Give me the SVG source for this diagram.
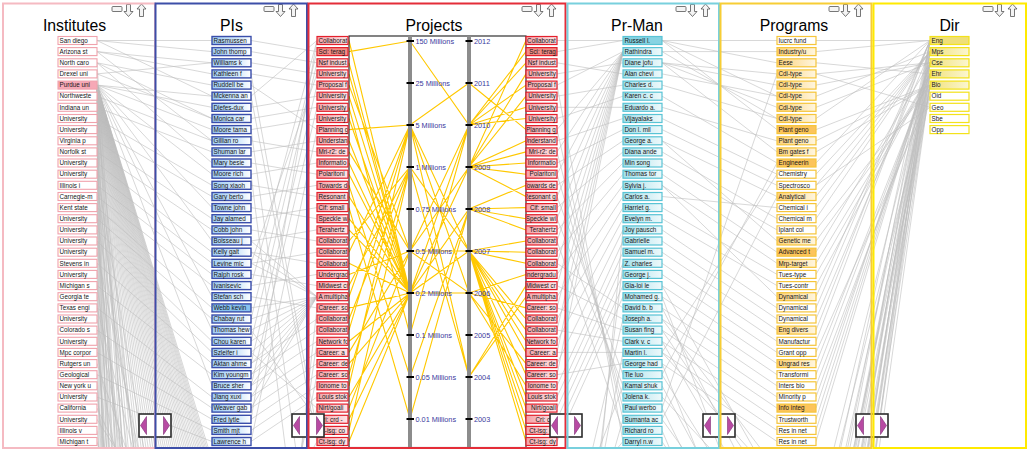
<svg xmlns="http://www.w3.org/2000/svg" width="1031" height="452" viewBox="0 0 1031 452">
<style>
text{font-family:"Liberation Sans",Arial,sans-serif}
.t{font-size:15.8px;text-anchor:middle;fill:#000}
.nodes text{font-size:6.3px;fill:#161616}
.bi{fill:#fff;stroke:#f0a2ac;stroke-width:1.1}
.bi.h{fill:#f6a8b6}
.bp{fill:url(#gp);stroke:#3a4eab;stroke-width:1.4}
.bp.h{fill:#88c2ef}
.bj{fill:url(#gj);stroke:#e3202c;stroke-width:1.2}
.bj.h{fill:#f28a84}
.bm{fill:url(#gm);stroke:#59c4d5;stroke-width:1.2}
.bm.h{fill:#86d3e2}
.bg{fill:#fff;stroke:#f6c53a;stroke-width:1.2}
.bg.g{fill:url(#gg)}
.bg.h{fill:#fcc45c}
.bd{fill:#fff;stroke:#f3e21a;stroke-width:1.2}
.bd.g{fill:url(#gd)}
.bd.h{fill:#efdf78}
.pl text,.pr text{clip-path:url(#cb)}
.pr text{text-anchor:end}
.cn{stroke:#bdbdbd;stroke-width:.6;fill:none}
.yl{stroke:#ffc800;stroke-width:1.1;fill:none}
.ax{font-size:7.3px;fill:#3a3a9e}
.pan{fill:none;stroke-width:2}
</style>
<defs>
<linearGradient id="gp"><stop offset="0" stop-color="#9fcbf3"/><stop offset=".7" stop-color="#d6eafb"/><stop offset="1" stop-color="#fff"/></linearGradient>
<linearGradient id="gj"><stop offset="0" stop-color="#f4a0a6"/><stop offset="1" stop-color="#fde6e8"/></linearGradient>
<linearGradient id="gm"><stop offset="0" stop-color="#a3dfea"/><stop offset="1" stop-color="#eef9fb"/></linearGradient>
<linearGradient id="gg"><stop offset="0" stop-color="#fcd27a"/><stop offset="1" stop-color="#fff6df"/></linearGradient>
<linearGradient id="gd"><stop offset="0" stop-color="#f1e27c"/><stop offset="1" stop-color="#fbf6d0"/></linearGradient>
<clipPath id="cb"><rect x="0.6" y="-1" width="29.8" height="10"/></clipPath>
<clipPath id="cc"><rect x="0" y="0" width="1031" height="447"/></clipPath>
<g id="ico">
<rect x="0" y="2.5" width="10" height="5" rx="1" fill="#f4f4f4" stroke="#555" stroke-width=".8"/>
<path d="M14.5 0.5h4v7h2.5l-4.5 5l-4.5-5h2.5z" fill="#f4f4f4" stroke="#555" stroke-width=".8"/>
<path d="M29.5 0l4.5 5h-2.5v7.5h-4v-7.5h-2.5z" fill="#f4f4f4" stroke="#555" stroke-width=".8"/>
</g>
<g id="scr">
<rect x="-16" y="0" width="32" height="23" fill="#fff" stroke="#2b2b2b" stroke-width="1.6"/>
<path d="M-14.5 11.5L-8.5 2.5V20.5Z" fill="#b84aa3" stroke="#7d2c73" stroke-width=".6"/>
<path d="M14.5 11.5L8.5 2.5V20.5Z" fill="#b84aa3" stroke="#7d2c73" stroke-width=".6"/>
</g>
</defs>
<rect width="1031" height="452" fill="#fff"/>

<g id="connectors" clip-path="url(#cc)">
<path class="cn" d="M97 40.5L212 40.5M97 40.5L212 51.6M97 51.6L212 62.8M97 51.6L212 73.9M97 62.8L212 85.1M97 85.1L212 96.2M97 85.1L212 107.3M97 73.9L212 118.5M97 85.1L212 129.6M97 96.2L212 140.8M97 107.3L212 151.9M97 62.8L212 163M97 85.1L212 174.2M97 118.5L212 185.3M97 129.6L212 196.5M97 85.1L212 207.6M97 140.8L212 218.7M97 151.9L212 229.9M97 85.1L212 241M97 163L212 252.2M97 174.2L212 263.3M97 185.3L212 274.4M97 196.5L212 285.6M97 85.1L212 296.7M97 207.6L212 307.9M97 218.7L212 319M97 85.1L212 330.1M97 229.9L212 341.3M97 241L212 352.4M97 263.3L212 363.6M97 285.6L212 374.7M97 85.1L212 385.8M97 307.9L212 397M97 330.1L212 408.1M97 352.4L212 419.3M97 374.7L212 430.4M97 397L212 441.5M97 40.5L212 96.2M97 51.6L212 140.8M97 62.8L212 118.5M97 73.9L212 62.8"/>
<path class="cn" d="M97 85.1L212 460M97 85.1L212 465M97 85.1L212 470M97 85.1L212 475M97 85.1L212 480M97 85.1L212 486M97 85.1L212 492M97 85.1L212 498M97 85.1L212 505M97 85.1L212 512M97 85.1L212 520M97 85.1L212 528M97 85.1L212 536M97 85.1L212 544M97 85.1L212 553M97 85.1L212 562M97 85.1L212 572M97 85.1L212 583M97 85.1L212 594M97 85.1L212 606M97 85.1L212 618M97 85.1L212 631M97 85.1L212 645M97 85.1L212 660M97 85.1L212 676M97 85.1L212 694M97 85.1L212 712M97 85.1L212 732M97 85.1L212 754M97 85.1L212 778M97 85.1L212 804M97 85.1L212 832M97 85.1L212 864M97 85.1L212 900M97 85.1L212 938M97 85.1L212 982M97 85.1L212 1030M97 85.1L212 1090M97 85.1L212 1150M97 85.1L212 1230M97 85.1L212 1310M97 85.1L212 1420M97 85.1L212 1540M97 85.1L212 1700M97 85.1L212 1880M97 85.1L212 2150M97 85.1L212 2450M97 85.1L212 2900M97 85.1L212 3500M97 85.1L212 4500M97 85.1L212 6000M97 85.1L212 7500M97 85.1L212 9000M97 85.1L212 14000M97 85.1L212 25000"/>
<path class="cn" d="M97 218.7L212 900M97 229.9L212 1400M97 252.2L212 800M97 263.3L212 2000M97 285.6L212 1100M97 296.7L212 3000M97 319L212 900M97 341.3L212 1600M97 363.6L212 700M97 374.7L212 2500M97 397L212 1200M97 419.3L212 600M97 430.4L212 1500M97 441.5L212 900M97 151.9L212 1300M97 196.5L212 2200M97 62.8L212 1800M97 73.9L212 2400M97 184.8L212 1000M97 140.8L212 4000M97 96.2L212 1700M97 107.3L212 2600M97 118.5L212 1150M97 129.6L212 3200M97 163L212 1900M97 174.2L212 850M97 207.6L212 2700M97 241L212 1250M97 274.4L212 3400M97 307.9L212 760M97 330.1L212 2100M97 352.4L212 980M97 385.8L212 1700M97 408.1L212 650"/>
<path class="cn" d="M251 96.2L317 40.5M251 40.5L317 51.6M251 51.6L317 62.8M251 62.8L317 73.9M251 73.9L317 85.1M251 107.3L317 96.2M251 118.5L317 107.3M251 129.6L317 118.5M251 85.1L317 129.6M251 151.9L317 140.8M251 140.8L317 151.9M251 174.2L317 163M251 163L317 174.2M251 196.5L317 185.3M251 185.3L317 196.5M251 218.7L317 207.6M251 207.6L317 218.7M251 241L317 229.9M251 229.9L317 241M251 263.3L317 252.2M251 252.2L317 263.3M251 285.6L317 274.4M251 274.4L317 285.6M251 307.9L317 296.7M251 319L317 296.7M251 330.1L317 296.7M251 341.3L317 296.7M251 352.4L317 296.7M251 363.6L317 296.7M251 374.7L317 296.7M251 385.8L317 296.7M251 397L317 296.7M251 408.1L317 296.7M251 241L317 296.7M251 252.2L317 296.7M251 263.3L317 296.7M251 296.7L317 307.9M251 363.6L317 319M251 374.7L317 330.1M251 385.8L317 341.3M251 397L317 352.4M251 408.1L317 363.6M251 419.3L317 374.7M251 430.4L317 385.8M251 441.5L317 397M251 352.4L317 408.1M251 330.1L317 419.3M251 73.9L317 430.4M251 96.2L317 441.5M251 285.6L317 40.5M251 319L317 51.6M251 341.3L317 62.8M251 263.3L317 73.9M251 363.6L317 85.1M251 385.8L317 107.3M251 419.3L317 40.5M251 441.5L317 129.6M317 374.7L251 700M317 408.1L251 650M317 441.5L251 560M317 341.3L251 800M317 307.9L251 900M251 129.6L317 600M251 174.2L317 700"/>
<path class="cn" d="M557 40.5L623 40.5M557 51.6L623 40.5M557 85.1L623 51.6M557 129.6L623 51.6M557 151.9L623 51.6M557 174.2L623 51.6M557 196.5L623 51.6M557 218.7L623 51.6M557 241L623 51.6M557 263.3L623 51.6M557 285.6L623 51.6M557 307.9L623 51.6M557 330.1L623 51.6M557 352.4L623 51.6M557 374.7L623 51.6M557 73.9L623 62.8M557 62.8L623 73.9M557 96.2L623 85.1M557 118.5L623 96.2M557 107.3L623 107.3M557 140.8L623 118.5M557 163L623 129.6M557 185.3L623 140.8M557 207.6L623 151.9M557 229.9L623 163M557 252.2L623 174.2M557 274.4L623 185.3M557 296.7L623 196.5M557 319L623 207.6M557 341.3L623 218.7M557 363.6L623 229.9M557 385.8L623 241M557 397L623 252.2M557 408.1L623 263.3M557 419.3L623 274.4M557 430.4L623 285.6M557 441.5L623 296.7M557 263.3L623 307.9M557 285.6L623 319M557 307.9L623 330.1M557 330.1L623 341.3M557 352.4L623 352.4M557 374.7L623 363.6M557 196.5L623 374.7M557 218.7L623 385.8M557 174.2L623 397M557 151.9L623 408.1M557 129.6L623 419.3M557 241L623 430.4M557 85.1L623 441.5M623 319L557 600M623 352.4L557 700M623 385.8L557 560M623 419.3L557 650M623 441.5L557 520M623 263.3L557 800M623 229.9L557 900"/>
<path class="cn" d="M662 40.5L777 40.5M662 51.6L777 51.6M662 40.5L777 62.8M662 62.8L777 73.9M662 62.8L777 85.1M662 73.9L777 96.2M662 62.8L777 107.3M662 85.1L777 118.5M662 40.5L777 129.6M662 107.3L777 140.8M662 62.8L777 151.9M662 96.2L777 163M662 118.5L777 174.2M662 129.6L777 185.3M662 140.8L777 196.5M662 196.5L777 207.6M662 151.9L777 218.7M662 163L777 229.9M662 140.8L777 241M662 174.2L777 252.2M662 185.3L777 263.3M662 207.6L777 274.4M662 218.7L777 285.6M662 185.3L777 296.7M662 229.9L777 307.9M662 241L777 319M662 252.2L777 330.1M662 263.3L777 341.3M662 274.4L777 352.4M662 285.6L777 363.6M662 296.7L777 374.7M662 307.9L777 385.8M662 319L777 397M662 330.1L777 408.1M662 341.3L777 419.3M662 352.4L777 430.4M662 363.6L777 441.5M662 374.7L777 163M662 352.4L777 174.2M662 419.3L777 196.5M662 408.1L777 73.9M662 40.5L777 96.2M662 51.6L777 118.5M662 374.7L777 560M662 385.8L777 600M662 397L777 520M662 408.1L777 640M662 419.3L777 580M662 430.4L777 700M662 441.5L777 620M662 330.1L777 500M662 341.3L777 540M662 352.4L777 480M662 363.6L777 650M662 319L777 470M662 307.9L777 530M662 285.6L777 490M662 296.7L777 600"/>
<path class="cn" d="M816 40.5L930 40.5M816 51.6L930 40.5M816 62.8L930 73.9M816 73.9L930 62.8M816 85.1L930 62.8M816 96.2L930 51.6M816 107.3L930 62.8M816 118.5L930 40.5M816 129.6L930 85.1M816 140.8L930 85.1M816 151.9L930 85.1M816 163L930 40.5M816 174.2L930 51.6M816 185.3L930 51.6M816 196.5L930 51.6M816 207.6L930 51.6M816 218.7L930 51.6M816 229.9L930 85.1M816 241L930 85.1M816 252.2L930 62.8M816 263.3L930 73.9M816 274.4L930 73.9M816 285.6L930 73.9M816 296.7L930 40.5M816 307.9L930 40.5M816 319L930 51.6M816 330.1L930 40.5M816 341.3L930 40.5M816 352.4L930 96.2M816 363.6L930 73.9M816 374.7L930 73.9M816 385.8L930 85.1M816 397L930 73.9M816 408.1L930 62.8M816 419.3L930 62.8M816 430.4L930 62.8M816 441.5L930 62.8M816 73.9L930 107.3M816 185.3L930 107.3M930 40.5L816 560M930 40.5L816 680M930 40.5L816 800M930 40.5L816 900M930 51.6L816 600M930 51.6L816 720M930 51.6L816 840M930 62.8L816 520M930 62.8L816 640M930 62.8L816 760M930 62.8L816 880M930 73.9L816 580M930 73.9L816 700M930 73.9L816 820M930 85.1L816 540M930 85.1L816 660M930 85.1L816 780M930 85.1L816 900M930 96.2L816 620M930 40.5L816 620M930 51.6L816 780M930 62.8L816 700M930 85.1L816 720M930 40.5L816 740M930 51.6L816 660M930 62.8L816 820M930 73.9L816 640M930 85.1L816 840M930 73.9L816 760"/>
<g id="parallel-lines">
<path class="yl" d="M349 40.5L410 293L469 167L526 40.5M349 51.6L410 41L469 125L526 51.6M349 62.8L410 293L469 125L526 62.8M349 73.9L410 293L469 167L526 73.9M349 85.1L410 251L469 125L526 85.1M349 96.2L410 293L469 167L526 96.2M349 107.3L410 335L469 125L526 107.3M349 118.5L410 293L469 125L526 118.5M349 129.6L410 125L469 83L526 129.6M349 140.8L410 293L469 167L526 140.8M349 151.9L410 251L469 167L526 151.9M349 163L410 293L469 167L526 163M349 174.2L410 293L469 167L526 174.2M349 185.3L410 377L469 209L526 185.3M349 196.5L410 293L469 167L526 196.5M349 207.6L410 419L469 209L526 207.6M349 218.7L410 293L469 209L526 218.7M349 229.9L410 293L469 209L526 229.9M349 241L410 167L469 251L526 241M349 252.2L410 125L469 251L526 252.2M349 263.3L410 293L469 251L526 263.3M349 274.4L410 251L469 293L526 274.4M349 285.6L410 167L469 377L526 285.6M349 296.7L410 125L469 377L526 296.7M349 307.9L410 293L469 293L526 307.9M349 319L410 167L469 251L526 319M349 330.1L410 125L469 251L526 330.1M349 341.3L410 293L469 251L526 341.3M349 352.4L410 251L469 251L526 352.4M349 363.6L410 293L469 293L526 363.6M349 374.7L410 167L469 251L526 374.7M349 385.8L410 125L469 293L526 385.8M349 397L410 293L469 251L526 397M349 408.1L410 251L469 251L526 408.1M349 419.3L410 293L469 251L526 419.3M349 430.4L410 167L469 251L526 430.4M349 441.5L410 293L469 251L526 441.5"/>
</g>
</g>

<g id="proj-axes">
<rect x="349" y="36" width="177" height="411.5" fill="none" stroke="#1e1e1e" stroke-width="1.1"/>
<rect x="408" y="36" width="4" height="411.5" fill="#8c8c8c"/>
<rect x="467" y="36" width="4" height="411.5" fill="#8c8c8c"/>
<path d="M406.5 41h7.5M406.5 83h7.5M406.5 125h7.5M406.5 167h7.5M406.5 209h7.5M406.5 251h7.5M406.5 293h7.5M406.5 335h7.5M406.5 377h7.5M406.5 419h7.5M465.5 41h7M465.5 83h7M465.5 125h7M465.5 167h7M465.5 209h7M465.5 251h7M465.5 293h7M465.5 335h7M465.5 377h7M465.5 419h7" stroke="#000" stroke-width="2.2"/>
<g class="ax">
<text x="415.5" y="43.7">150 Millions</text><text x="415.5" y="85.7">25 Millions</text><text x="415.5" y="127.7">5 Millions</text><text x="415.5" y="169.7">1 Millions</text><text x="415.5" y="211.7">0.75 Millions</text><text x="415.5" y="253.7">0.5 Millions</text><text x="415.5" y="295.7">0.2 Millions</text><text x="415.5" y="337.7">0.1 Millions</text><text x="415.5" y="379.7">0.05 Millions</text><text x="415.5" y="421.7">0.01 Millions</text>
<text x="474" y="44">2012</text><text x="474" y="86">2011</text><text x="474" y="128">2010</text><text x="474" y="170">2009</text><text x="474" y="212">2008</text><text x="474" y="254">2007</text><text x="474" y="296">2006</text><text x="474" y="338">2005</text><text x="474" y="380">2004</text><text x="474" y="422">2003</text>
</g>
</g>

<g class="nodes">
<g id="institutes">
<g id="inst-0" transform="translate(58 36.5)"><rect class="bi" width="39" height="8"/><text x="1.5" y="6.3">San diego</text></g>
<g id="inst-1" transform="translate(58 47.6)"><rect class="bi" width="39" height="8"/><text x="1.5" y="6.3">Arizona st</text></g>
<g id="inst-2" transform="translate(58 58.8)"><rect class="bi" width="39" height="8"/><text x="1.5" y="6.3">North caro</text></g>
<g id="inst-3" transform="translate(58 69.9)"><rect class="bi" width="39" height="8"/><text x="1.5" y="6.3">Drexel uni</text></g>
<g id="inst-4" transform="translate(58 81.1)"><rect class="bi h" width="39" height="8"/><text x="1.5" y="6.3">Purdue uni</text></g>
<g id="inst-5" transform="translate(58 92.2)"><rect class="bi" width="39" height="8"/><text x="1.5" y="6.3">Northweste</text></g>
<g id="inst-6" transform="translate(58 103.3)"><rect class="bi" width="39" height="8"/><text x="1.5" y="6.3">Indiana un</text></g>
<g id="inst-7" transform="translate(58 114.5)"><rect class="bi" width="39" height="8"/><text x="1.5" y="6.3">University</text></g>
<g id="inst-8" transform="translate(58 125.6)"><rect class="bi" width="39" height="8"/><text x="1.5" y="6.3">University</text></g>
<g id="inst-9" transform="translate(58 136.8)"><rect class="bi" width="39" height="8"/><text x="1.5" y="6.3">Virginia p</text></g>
<g id="inst-10" transform="translate(58 147.9)"><rect class="bi" width="39" height="8"/><text x="1.5" y="6.3">Norfolk st</text></g>
<g id="inst-11" transform="translate(58 159)"><rect class="bi" width="39" height="8"/><text x="1.5" y="6.3">University</text></g>
<g id="inst-12" transform="translate(58 170.2)"><rect class="bi" width="39" height="8"/><text x="1.5" y="6.3">University</text></g>
<g id="inst-13" transform="translate(58 181.3)"><rect class="bi" width="39" height="8"/><text x="1.5" y="6.3">Illinois i</text></g>
<g id="inst-14" transform="translate(58 192.5)"><rect class="bi" width="39" height="8"/><text x="1.5" y="6.3">Carnegie-m</text></g>
<g id="inst-15" transform="translate(58 203.6)"><rect class="bi" width="39" height="8"/><text x="1.5" y="6.3">Kent state</text></g>
<g id="inst-16" transform="translate(58 214.7)"><rect class="bi" width="39" height="8"/><text x="1.5" y="6.3">University</text></g>
<g id="inst-17" transform="translate(58 225.9)"><rect class="bi" width="39" height="8"/><text x="1.5" y="6.3">University</text></g>
<g id="inst-18" transform="translate(58 237)"><rect class="bi" width="39" height="8"/><text x="1.5" y="6.3">University</text></g>
<g id="inst-19" transform="translate(58 248.2)"><rect class="bi" width="39" height="8"/><text x="1.5" y="6.3">University</text></g>
<g id="inst-20" transform="translate(58 259.3)"><rect class="bi" width="39" height="8"/><text x="1.5" y="6.3">Stevens in</text></g>
<g id="inst-21" transform="translate(58 270.4)"><rect class="bi" width="39" height="8"/><text x="1.5" y="6.3">University</text></g>
<g id="inst-22" transform="translate(58 281.6)"><rect class="bi" width="39" height="8"/><text x="1.5" y="6.3">Michigan s</text></g>
<g id="inst-23" transform="translate(58 292.7)"><rect class="bi" width="39" height="8"/><text x="1.5" y="6.3">Georgia te</text></g>
<g id="inst-24" transform="translate(58 303.9)"><rect class="bi" width="39" height="8"/><text x="1.5" y="6.3">Texas engi</text></g>
<g id="inst-25" transform="translate(58 315)"><rect class="bi" width="39" height="8"/><text x="1.5" y="6.3">University</text></g>
<g id="inst-26" transform="translate(58 326.1)"><rect class="bi" width="39" height="8"/><text x="1.5" y="6.3">Colorado s</text></g>
<g id="inst-27" transform="translate(58 337.3)"><rect class="bi" width="39" height="8"/><text x="1.5" y="6.3">University</text></g>
<g id="inst-28" transform="translate(58 348.4)"><rect class="bi" width="39" height="8"/><text x="1.5" y="6.3">Mpc corpor</text></g>
<g id="inst-29" transform="translate(58 359.6)"><rect class="bi" width="39" height="8"/><text x="1.5" y="6.3">Rutgers un</text></g>
<g id="inst-30" transform="translate(58 370.7)"><rect class="bi" width="39" height="8"/><text x="1.5" y="6.3">Geological</text></g>
<g id="inst-31" transform="translate(58 381.8)"><rect class="bi" width="39" height="8"/><text x="1.5" y="6.3">New york u</text></g>
<g id="inst-32" transform="translate(58 393)"><rect class="bi" width="39" height="8"/><text x="1.5" y="6.3">University</text></g>
<g id="inst-33" transform="translate(58 404.1)"><rect class="bi" width="39" height="8"/><text x="1.5" y="6.3">California</text></g>
<g id="inst-34" transform="translate(58 415.3)"><rect class="bi" width="39" height="8"/><text x="1.5" y="6.3">University</text></g>
<g id="inst-35" transform="translate(58 426.4)"><rect class="bi" width="39" height="8"/><text x="1.5" y="6.3">Illinois v</text></g>
<g id="inst-36" transform="translate(58 437.5)"><rect class="bi" width="39" height="8"/><text x="1.5" y="6.3">Michigan t</text></g>
</g>
<g id="pis">
<g id="pi-0" transform="translate(212 36.5)"><rect class="bp" width="39" height="8"/><text x="1.5" y="6.3">Rasmussen</text></g>
<g id="pi-1" transform="translate(212 47.6)"><rect class="bp" width="39" height="8"/><text x="1.5" y="6.3">John thomp</text></g>
<g id="pi-2" transform="translate(212 58.8)"><rect class="bp" width="39" height="8"/><text x="1.5" y="6.3">Williams k</text></g>
<g id="pi-3" transform="translate(212 69.9)"><rect class="bp" width="39" height="8"/><text x="1.5" y="6.3">Kathleen f</text></g>
<g id="pi-4" transform="translate(212 81.1)"><rect class="bp" width="39" height="8"/><text x="1.5" y="6.3">Ruddell be</text></g>
<g id="pi-5" transform="translate(212 92.2)"><rect class="bp" width="39" height="8"/><text x="1.5" y="6.3">Mckenna an</text></g>
<g id="pi-6" transform="translate(212 103.3)"><rect class="bp" width="39" height="8"/><text x="1.5" y="6.3">Diefes-dux</text></g>
<g id="pi-7" transform="translate(212 114.5)"><rect class="bp" width="39" height="8"/><text x="1.5" y="6.3">Monica car</text></g>
<g id="pi-8" transform="translate(212 125.6)"><rect class="bp" width="39" height="8"/><text x="1.5" y="6.3">Moore tama</text></g>
<g id="pi-9" transform="translate(212 136.8)"><rect class="bp" width="39" height="8"/><text x="1.5" y="6.3">Gillian ro</text></g>
<g id="pi-10" transform="translate(212 147.9)"><rect class="bp" width="39" height="8"/><text x="1.5" y="6.3">Shuman lar</text></g>
<g id="pi-11" transform="translate(212 159)"><rect class="bp" width="39" height="8"/><text x="1.5" y="6.3">Mary besie</text></g>
<g id="pi-12" transform="translate(212 170.2)"><rect class="bp" width="39" height="8"/><text x="1.5" y="6.3">Moore rich</text></g>
<g id="pi-13" transform="translate(212 181.3)"><rect class="bp" width="39" height="8"/><text x="1.5" y="6.3">Song xiaoh</text></g>
<g id="pi-14" transform="translate(212 192.5)"><rect class="bp" width="39" height="8"/><text x="1.5" y="6.3">Gary berto</text></g>
<g id="pi-15" transform="translate(212 203.6)"><rect class="bp" width="39" height="8"/><text x="1.5" y="6.3">Towne john</text></g>
<g id="pi-16" transform="translate(212 214.7)"><rect class="bp" width="39" height="8"/><text x="1.5" y="6.3">Jay alamed</text></g>
<g id="pi-17" transform="translate(212 225.9)"><rect class="bp" width="39" height="8"/><text x="1.5" y="6.3">Cobb john</text></g>
<g id="pi-18" transform="translate(212 237)"><rect class="bp" width="39" height="8"/><text x="1.5" y="6.3">Boisseau j</text></g>
<g id="pi-19" transform="translate(212 248.2)"><rect class="bp" width="39" height="8"/><text x="1.5" y="6.3">Kelly gait</text></g>
<g id="pi-20" transform="translate(212 259.3)"><rect class="bp" width="39" height="8"/><text x="1.5" y="6.3">Levine mic</text></g>
<g id="pi-21" transform="translate(212 270.4)"><rect class="bp" width="39" height="8"/><text x="1.5" y="6.3">Ralph rosk</text></g>
<g id="pi-22" transform="translate(212 281.6)"><rect class="bp" width="39" height="8"/><text x="1.5" y="6.3">Ivanisevic</text></g>
<g id="pi-23" transform="translate(212 292.7)"><rect class="bp" width="39" height="8"/><text x="1.5" y="6.3">Stefan sch</text></g>
<g id="pi-24" transform="translate(212 303.9)"><rect class="bp h" width="39" height="8"/><text x="1.5" y="6.3">Webb kevin</text></g>
<g id="pi-25" transform="translate(212 315)"><rect class="bp" width="39" height="8"/><text x="1.5" y="6.3">Chabay rut</text></g>
<g id="pi-26" transform="translate(212 326.1)"><rect class="bp" width="39" height="8"/><text x="1.5" y="6.3">Thomas hew</text></g>
<g id="pi-27" transform="translate(212 337.3)"><rect class="bp" width="39" height="8"/><text x="1.5" y="6.3">Chou karen</text></g>
<g id="pi-28" transform="translate(212 348.4)"><rect class="bp" width="39" height="8"/><text x="1.5" y="6.3">Szleifer i</text></g>
<g id="pi-29" transform="translate(212 359.6)"><rect class="bp" width="39" height="8"/><text x="1.5" y="6.3">Aktan ahme</text></g>
<g id="pi-30" transform="translate(212 370.7)"><rect class="bp" width="39" height="8"/><text x="1.5" y="6.3">Kim youngm</text></g>
<g id="pi-31" transform="translate(212 381.8)"><rect class="bp" width="39" height="8"/><text x="1.5" y="6.3">Bruce sher</text></g>
<g id="pi-32" transform="translate(212 393)"><rect class="bp" width="39" height="8"/><text x="1.5" y="6.3">Jiang xuxi</text></g>
<g id="pi-33" transform="translate(212 404.1)"><rect class="bp" width="39" height="8"/><text x="1.5" y="6.3">Weaver gab</text></g>
<g id="pi-34" transform="translate(212 415.3)"><rect class="bp" width="39" height="8"/><text x="1.5" y="6.3">Fred lytle</text></g>
<g id="pi-35" transform="translate(212 426.4)"><rect class="bp" width="39" height="8"/><text x="1.5" y="6.3">Smith mjt</text></g>
<g id="pi-36" transform="translate(212 437.5)"><rect class="bp" width="39" height="8"/><text x="1.5" y="6.3">Lawrence h</text></g>
</g>
<g id="projects-left" class="pl">
<g id="proj-0" transform="translate(317 36.5)"><rect class="bj" width="31" height="8"/><text x="1.5" y="6.3">Collaborat</text></g>
<g id="proj-1" transform="translate(317 47.6)"><rect class="bj h" width="31" height="8"/><text x="1.5" y="6.3">Sci: terag</text></g>
<g id="proj-2" transform="translate(317 58.8)"><rect class="bj" width="31" height="8"/><text x="1.5" y="6.3">Nsf indust</text></g>
<g id="proj-3" transform="translate(317 69.9)"><rect class="bj" width="31" height="8"/><text x="1.5" y="6.3">University</text></g>
<g id="proj-4" transform="translate(317 81.1)"><rect class="bj" width="31" height="8"/><text x="1.5" y="6.3">Proposal f</text></g>
<g id="proj-5" transform="translate(317 92.2)"><rect class="bj" width="31" height="8"/><text x="1.5" y="6.3">University</text></g>
<g id="proj-6" transform="translate(317 103.3)"><rect class="bj" width="31" height="8"/><text x="1.5" y="6.3">University</text></g>
<g id="proj-7" transform="translate(317 114.5)"><rect class="bj" width="31" height="8"/><text x="1.5" y="6.3">University</text></g>
<g id="proj-8" transform="translate(317 125.6)"><rect class="bj" width="31" height="8"/><text x="1.5" y="6.3">Planning g</text></g>
<g id="proj-9" transform="translate(317 136.8)"><rect class="bj" width="31" height="8"/><text x="1.5" y="6.3">Understand</text></g>
<g id="proj-10" transform="translate(317 147.9)"><rect class="bj" width="31" height="8"/><text x="1.5" y="6.3">Mri-r2: de</text></g>
<g id="proj-11" transform="translate(317 159)"><rect class="bj" width="31" height="8"/><text x="1.5" y="6.3">Informatio</text></g>
<g id="proj-12" transform="translate(317 170.2)"><rect class="bj" width="31" height="8"/><text x="1.5" y="6.3">Polaritoni</text></g>
<g id="proj-13" transform="translate(317 181.3)"><rect class="bj" width="31" height="8"/><text x="1.5" y="6.3">Towards de</text></g>
<g id="proj-14" transform="translate(317 192.5)"><rect class="bj" width="31" height="8"/><text x="1.5" y="6.3">Resonant g</text></g>
<g id="proj-15" transform="translate(317 203.6)"><rect class="bj" width="31" height="8"/><text x="1.5" y="6.3">Cif: small</text></g>
<g id="proj-16" transform="translate(317 214.7)"><rect class="bj" width="31" height="8"/><text x="1.5" y="6.3">Speckle wi</text></g>
<g id="proj-17" transform="translate(317 225.9)"><rect class="bj" width="31" height="8"/><text x="1.5" y="6.3">Terahertz</text></g>
<g id="proj-18" transform="translate(317 237)"><rect class="bj" width="31" height="8"/><text x="1.5" y="6.3">Collaborat</text></g>
<g id="proj-19" transform="translate(317 248.2)"><rect class="bj" width="31" height="8"/><text x="1.5" y="6.3">Collaborat</text></g>
<g id="proj-20" transform="translate(317 259.3)"><rect class="bj" width="31" height="8"/><text x="1.5" y="6.3">Collaborat</text></g>
<g id="proj-21" transform="translate(317 270.4)"><rect class="bj" width="31" height="8"/><text x="1.5" y="6.3">Undergradu</text></g>
<g id="proj-22" transform="translate(317 281.6)"><rect class="bj" width="31" height="8"/><text x="1.5" y="6.3">Midwest cr</text></g>
<g id="proj-23" transform="translate(317 292.7)"><rect class="bj" width="31" height="8"/><text x="1.5" y="6.3">A multipha</text></g>
<g id="proj-24" transform="translate(317 303.9)"><rect class="bj" width="31" height="8"/><text x="1.5" y="6.3">Career: so</text></g>
<g id="proj-25" transform="translate(317 315)"><rect class="bj" width="31" height="8"/><text x="1.5" y="6.3">Collaborat</text></g>
<g id="proj-26" transform="translate(317 326.1)"><rect class="bj" width="31" height="8"/><text x="1.5" y="6.3">Collaborat</text></g>
<g id="proj-27" transform="translate(317 337.3)"><rect class="bj" width="31" height="8"/><text x="1.5" y="6.3">Network fo</text></g>
<g id="proj-28" transform="translate(317 348.4)"><rect class="bj" width="31" height="8"/><text x="1.5" y="6.3">Career: a</text></g>
<g id="proj-29" transform="translate(317 359.6)"><rect class="bj" width="31" height="8"/><text x="1.5" y="6.3">Career: de</text></g>
<g id="proj-30" transform="translate(317 370.7)"><rect class="bj" width="31" height="8"/><text x="1.5" y="6.3">Career: so</text></g>
<g id="proj-31" transform="translate(317 381.8)"><rect class="bj" width="31" height="8"/><text x="1.5" y="6.3">Ionome to</text></g>
<g id="proj-32" transform="translate(317 393)"><rect class="bj" width="31" height="8"/><text x="1.5" y="6.3">Louis stok</text></g>
<g id="proj-33" transform="translate(317 404.1)"><rect class="bj" width="31" height="8"/><text x="1.5" y="6.3">Nirt/goali</text></g>
<g id="proj-34" transform="translate(317 415.3)"><rect class="bj" width="31" height="8"/><text x="1.5" y="6.3">Cri: crd -</text></g>
<g id="proj-35" transform="translate(317 426.4)"><rect class="bj" width="31" height="8"/><text x="1.5" y="6.3">Ct-isg: co</text></g>
<g id="proj-36" transform="translate(317 437.5)"><rect class="bj" width="31" height="8"/><text x="1.5" y="6.3">Ct-isg: dy</text></g>
</g>
<g id="projects-right" class="pr">
<g id="projr-0" transform="translate(526 36.5)"><rect class="bj" width="31" height="8"/><text x="29.8" y="6.3">Collaborat</text></g>
<g id="projr-1" transform="translate(526 47.6)"><rect class="bj h" width="31" height="8"/><text x="29.8" y="6.3">Sci: terag</text></g>
<g id="projr-2" transform="translate(526 58.8)"><rect class="bj" width="31" height="8"/><text x="29.8" y="6.3">Nsf indust</text></g>
<g id="projr-3" transform="translate(526 69.9)"><rect class="bj" width="31" height="8"/><text x="29.8" y="6.3">University</text></g>
<g id="projr-4" transform="translate(526 81.1)"><rect class="bj" width="31" height="8"/><text x="29.8" y="6.3">Proposal f</text></g>
<g id="projr-5" transform="translate(526 92.2)"><rect class="bj" width="31" height="8"/><text x="29.8" y="6.3">University</text></g>
<g id="projr-6" transform="translate(526 103.3)"><rect class="bj" width="31" height="8"/><text x="29.8" y="6.3">University</text></g>
<g id="projr-7" transform="translate(526 114.5)"><rect class="bj" width="31" height="8"/><text x="29.8" y="6.3">University</text></g>
<g id="projr-8" transform="translate(526 125.6)"><rect class="bj" width="31" height="8"/><text x="29.8" y="6.3">Planning g</text></g>
<g id="projr-9" transform="translate(526 136.8)"><rect class="bj" width="31" height="8"/><text x="29.8" y="6.3">Understand</text></g>
<g id="projr-10" transform="translate(526 147.9)"><rect class="bj" width="31" height="8"/><text x="29.8" y="6.3">Mri-r2: de</text></g>
<g id="projr-11" transform="translate(526 159)"><rect class="bj" width="31" height="8"/><text x="29.8" y="6.3">Informatio</text></g>
<g id="projr-12" transform="translate(526 170.2)"><rect class="bj" width="31" height="8"/><text x="29.8" y="6.3">Polaritoni</text></g>
<g id="projr-13" transform="translate(526 181.3)"><rect class="bj" width="31" height="8"/><text x="29.8" y="6.3">Towards de</text></g>
<g id="projr-14" transform="translate(526 192.5)"><rect class="bj" width="31" height="8"/><text x="29.8" y="6.3">Resonant g</text></g>
<g id="projr-15" transform="translate(526 203.6)"><rect class="bj" width="31" height="8"/><text x="29.8" y="6.3">Cif: small</text></g>
<g id="projr-16" transform="translate(526 214.7)"><rect class="bj" width="31" height="8"/><text x="29.8" y="6.3">Speckle wi</text></g>
<g id="projr-17" transform="translate(526 225.9)"><rect class="bj" width="31" height="8"/><text x="29.8" y="6.3">Terahertz</text></g>
<g id="projr-18" transform="translate(526 237)"><rect class="bj" width="31" height="8"/><text x="29.8" y="6.3">Collaborat</text></g>
<g id="projr-19" transform="translate(526 248.2)"><rect class="bj" width="31" height="8"/><text x="29.8" y="6.3">Collaborat</text></g>
<g id="projr-20" transform="translate(526 259.3)"><rect class="bj" width="31" height="8"/><text x="29.8" y="6.3">Collaborat</text></g>
<g id="projr-21" transform="translate(526 270.4)"><rect class="bj" width="31" height="8"/><text x="29.8" y="6.3">Undergradu</text></g>
<g id="projr-22" transform="translate(526 281.6)"><rect class="bj" width="31" height="8"/><text x="29.8" y="6.3">Midwest cr</text></g>
<g id="projr-23" transform="translate(526 292.7)"><rect class="bj" width="31" height="8"/><text x="29.8" y="6.3">A multipha</text></g>
<g id="projr-24" transform="translate(526 303.9)"><rect class="bj" width="31" height="8"/><text x="29.8" y="6.3">Career: so</text></g>
<g id="projr-25" transform="translate(526 315)"><rect class="bj" width="31" height="8"/><text x="29.8" y="6.3">Collaborat</text></g>
<g id="projr-26" transform="translate(526 326.1)"><rect class="bj" width="31" height="8"/><text x="29.8" y="6.3">Collaborat</text></g>
<g id="projr-27" transform="translate(526 337.3)"><rect class="bj" width="31" height="8"/><text x="29.8" y="6.3">Network fo</text></g>
<g id="projr-28" transform="translate(526 348.4)"><rect class="bj" width="31" height="8"/><text x="29.8" y="6.3">Career: a</text></g>
<g id="projr-29" transform="translate(526 359.6)"><rect class="bj" width="31" height="8"/><text x="29.8" y="6.3">Career: de</text></g>
<g id="projr-30" transform="translate(526 370.7)"><rect class="bj" width="31" height="8"/><text x="29.8" y="6.3">Career: so</text></g>
<g id="projr-31" transform="translate(526 381.8)"><rect class="bj" width="31" height="8"/><text x="29.8" y="6.3">Ionome to</text></g>
<g id="projr-32" transform="translate(526 393)"><rect class="bj" width="31" height="8"/><text x="29.8" y="6.3">Louis stok</text></g>
<g id="projr-33" transform="translate(526 404.1)"><rect class="bj" width="31" height="8"/><text x="29.8" y="6.3">Nirt/goali</text></g>
<g id="projr-34" transform="translate(526 415.3)"><rect class="bj" width="31" height="8"/><text x="29.8" y="6.3">Cri: crd</text></g>
<g id="projr-35" transform="translate(526 426.4)"><rect class="bj" width="31" height="8"/><text x="29.8" y="6.3">Ct-isg: co</text></g>
<g id="projr-36" transform="translate(526 437.5)"><rect class="bj" width="31" height="8"/><text x="29.8" y="6.3">Ct-isg: dy</text></g>
</g>
<g id="prman">
<g id="pm-0" transform="translate(623 36.5)"><rect class="bm h" width="39" height="8"/><text x="1.5" y="6.3">Russell l.</text></g>
<g id="pm-1" transform="translate(623 47.6)"><rect class="bm" width="39" height="8"/><text x="1.5" y="6.3">Rathindra</text></g>
<g id="pm-2" transform="translate(623 58.8)"><rect class="bm" width="39" height="8"/><text x="1.5" y="6.3">Diane jofu</text></g>
<g id="pm-3" transform="translate(623 69.9)"><rect class="bm" width="39" height="8"/><text x="1.5" y="6.3">Alan chevi</text></g>
<g id="pm-4" transform="translate(623 81.1)"><rect class="bm" width="39" height="8"/><text x="1.5" y="6.3">Charles d.</text></g>
<g id="pm-5" transform="translate(623 92.2)"><rect class="bm" width="39" height="8"/><text x="1.5" y="6.3">Karen c. c</text></g>
<g id="pm-6" transform="translate(623 103.3)"><rect class="bm" width="39" height="8"/><text x="1.5" y="6.3">Eduardo a.</text></g>
<g id="pm-7" transform="translate(623 114.5)"><rect class="bm" width="39" height="8"/><text x="1.5" y="6.3">Vijayalaks</text></g>
<g id="pm-8" transform="translate(623 125.6)"><rect class="bm" width="39" height="8"/><text x="1.5" y="6.3">Don l. mil</text></g>
<g id="pm-9" transform="translate(623 136.8)"><rect class="bm" width="39" height="8"/><text x="1.5" y="6.3">George a.</text></g>
<g id="pm-10" transform="translate(623 147.9)"><rect class="bm" width="39" height="8"/><text x="1.5" y="6.3">Diana ande</text></g>
<g id="pm-11" transform="translate(623 159)"><rect class="bm" width="39" height="8"/><text x="1.5" y="6.3">Min song</text></g>
<g id="pm-12" transform="translate(623 170.2)"><rect class="bm" width="39" height="8"/><text x="1.5" y="6.3">Thomas tor</text></g>
<g id="pm-13" transform="translate(623 181.3)"><rect class="bm" width="39" height="8"/><text x="1.5" y="6.3">Sylvia j.</text></g>
<g id="pm-14" transform="translate(623 192.5)"><rect class="bm" width="39" height="8"/><text x="1.5" y="6.3">Carlos a.</text></g>
<g id="pm-15" transform="translate(623 203.6)"><rect class="bm" width="39" height="8"/><text x="1.5" y="6.3">Harriet g.</text></g>
<g id="pm-16" transform="translate(623 214.7)"><rect class="bm" width="39" height="8"/><text x="1.5" y="6.3">Evelyn m.</text></g>
<g id="pm-17" transform="translate(623 225.9)"><rect class="bm" width="39" height="8"/><text x="1.5" y="6.3">Joy pausch</text></g>
<g id="pm-18" transform="translate(623 237)"><rect class="bm" width="39" height="8"/><text x="1.5" y="6.3">Gabrielle</text></g>
<g id="pm-19" transform="translate(623 248.2)"><rect class="bm" width="39" height="8"/><text x="1.5" y="6.3">Samuel m.</text></g>
<g id="pm-20" transform="translate(623 259.3)"><rect class="bm" width="39" height="8"/><text x="1.5" y="6.3">Z. charles</text></g>
<g id="pm-21" transform="translate(623 270.4)"><rect class="bm" width="39" height="8"/><text x="1.5" y="6.3">George j.</text></g>
<g id="pm-22" transform="translate(623 281.6)"><rect class="bm" width="39" height="8"/><text x="1.5" y="6.3">Gia-loi le</text></g>
<g id="pm-23" transform="translate(623 292.7)"><rect class="bm" width="39" height="8"/><text x="1.5" y="6.3">Mohamed g.</text></g>
<g id="pm-24" transform="translate(623 303.9)"><rect class="bm" width="39" height="8"/><text x="1.5" y="6.3">David b. b</text></g>
<g id="pm-25" transform="translate(623 315)"><rect class="bm" width="39" height="8"/><text x="1.5" y="6.3">Joseph a.</text></g>
<g id="pm-26" transform="translate(623 326.1)"><rect class="bm" width="39" height="8"/><text x="1.5" y="6.3">Susan fing</text></g>
<g id="pm-27" transform="translate(623 337.3)"><rect class="bm" width="39" height="8"/><text x="1.5" y="6.3">Clark v. c</text></g>
<g id="pm-28" transform="translate(623 348.4)"><rect class="bm" width="39" height="8"/><text x="1.5" y="6.3">Martin l.</text></g>
<g id="pm-29" transform="translate(623 359.6)"><rect class="bm" width="39" height="8"/><text x="1.5" y="6.3">George had</text></g>
<g id="pm-30" transform="translate(623 370.7)"><rect class="bm" width="39" height="8"/><text x="1.5" y="6.3">Tie luo</text></g>
<g id="pm-31" transform="translate(623 381.8)"><rect class="bm" width="39" height="8"/><text x="1.5" y="6.3">Kamal shuk</text></g>
<g id="pm-32" transform="translate(623 393)"><rect class="bm" width="39" height="8"/><text x="1.5" y="6.3">Jolena k.</text></g>
<g id="pm-33" transform="translate(623 404.1)"><rect class="bm" width="39" height="8"/><text x="1.5" y="6.3">Paul werbo</text></g>
<g id="pm-34" transform="translate(623 415.3)"><rect class="bm" width="39" height="8"/><text x="1.5" y="6.3">Sumanta ac</text></g>
<g id="pm-35" transform="translate(623 426.4)"><rect class="bm" width="39" height="8"/><text x="1.5" y="6.3">Richard ro</text></g>
<g id="pm-36" transform="translate(623 437.5)"><rect class="bm" width="39" height="8"/><text x="1.5" y="6.3">Darryl n.w</text></g>
</g>
<g id="programs">
<g id="pg-0" transform="translate(777 36.5)"><rect class="bg" width="39" height="8"/><text x="1.5" y="6.3">Iucrc fund</text></g>
<g id="pg-1" transform="translate(777 47.6)"><rect class="bg g" width="39" height="8"/><text x="1.5" y="6.3">Industry/u</text></g>
<g id="pg-2" transform="translate(777 58.8)"><rect class="bg g" width="39" height="8"/><text x="1.5" y="6.3">Eese</text></g>
<g id="pg-3" transform="translate(777 69.9)"><rect class="bg g" width="39" height="8"/><text x="1.5" y="6.3">Cdi-type</text></g>
<g id="pg-4" transform="translate(777 81.1)"><rect class="bg g" width="39" height="8"/><text x="1.5" y="6.3">Cdi-type</text></g>
<g id="pg-5" transform="translate(777 92.2)"><rect class="bg g" width="39" height="8"/><text x="1.5" y="6.3">Cdi-type</text></g>
<g id="pg-6" transform="translate(777 103.3)"><rect class="bg g" width="39" height="8"/><text x="1.5" y="6.3">Cdi-type</text></g>
<g id="pg-7" transform="translate(777 114.5)"><rect class="bg g" width="39" height="8"/><text x="1.5" y="6.3">Cdi-type</text></g>
<g id="pg-8" transform="translate(777 125.6)"><rect class="bg h" width="39" height="8"/><text x="1.5" y="6.3">Plant geno</text></g>
<g id="pg-9" transform="translate(777 136.8)"><rect class="bg g" width="39" height="8"/><text x="1.5" y="6.3">Plant geno</text></g>
<g id="pg-10" transform="translate(777 147.9)"><rect class="bg g" width="39" height="8"/><text x="1.5" y="6.3">Bm gates f</text></g>
<g id="pg-11" transform="translate(777 159)"><rect class="bg h" width="39" height="8"/><text x="1.5" y="6.3">Engineerin</text></g>
<g id="pg-12" transform="translate(777 170.2)"><rect class="bg" width="39" height="8"/><text x="1.5" y="6.3">Chemistry</text></g>
<g id="pg-13" transform="translate(777 181.3)"><rect class="bg" width="39" height="8"/><text x="1.5" y="6.3">Spectrosco</text></g>
<g id="pg-14" transform="translate(777 192.5)"><rect class="bg g" width="39" height="8"/><text x="1.5" y="6.3">Analytical</text></g>
<g id="pg-15" transform="translate(777 203.6)"><rect class="bg" width="39" height="8"/><text x="1.5" y="6.3">Chemical i</text></g>
<g id="pg-16" transform="translate(777 214.7)"><rect class="bg" width="39" height="8"/><text x="1.5" y="6.3">Chemical m</text></g>
<g id="pg-17" transform="translate(777 225.9)"><rect class="bg" width="39" height="8"/><text x="1.5" y="6.3">Iplant col</text></g>
<g id="pg-18" transform="translate(777 237)"><rect class="bg g" width="39" height="8"/><text x="1.5" y="6.3">Genetic me</text></g>
<g id="pg-19" transform="translate(777 248.2)"><rect class="bg h" width="39" height="8"/><text x="1.5" y="6.3">Advanced t</text></g>
<g id="pg-20" transform="translate(777 259.3)"><rect class="bg g" width="39" height="8"/><text x="1.5" y="6.3">Mrp-target</text></g>
<g id="pg-21" transform="translate(777 270.4)"><rect class="bg" width="39" height="8"/><text x="1.5" y="6.3">Tues-type</text></g>
<g id="pg-22" transform="translate(777 281.6)"><rect class="bg" width="39" height="8"/><text x="1.5" y="6.3">Tues-contr</text></g>
<g id="pg-23" transform="translate(777 292.7)"><rect class="bg g" width="39" height="8"/><text x="1.5" y="6.3">Dynamical</text></g>
<g id="pg-24" transform="translate(777 303.9)"><rect class="bg" width="39" height="8"/><text x="1.5" y="6.3">Dynamical</text></g>
<g id="pg-25" transform="translate(777 315)"><rect class="bg" width="39" height="8"/><text x="1.5" y="6.3">Dynamical</text></g>
<g id="pg-26" transform="translate(777 326.1)"><rect class="bg g" width="39" height="8"/><text x="1.5" y="6.3">Eng divers</text></g>
<g id="pg-27" transform="translate(777 337.3)"><rect class="bg" width="39" height="8"/><text x="1.5" y="6.3">Manufactur</text></g>
<g id="pg-28" transform="translate(777 348.4)"><rect class="bg" width="39" height="8"/><text x="1.5" y="6.3">Grant opp</text></g>
<g id="pg-29" transform="translate(777 359.6)"><rect class="bg g" width="39" height="8"/><text x="1.5" y="6.3">Ungrad res</text></g>
<g id="pg-30" transform="translate(777 370.7)"><rect class="bg" width="39" height="8"/><text x="1.5" y="6.3">Transformi</text></g>
<g id="pg-31" transform="translate(777 381.8)"><rect class="bg" width="39" height="8"/><text x="1.5" y="6.3">Inters bio</text></g>
<g id="pg-32" transform="translate(777 393)"><rect class="bg" width="39" height="8"/><text x="1.5" y="6.3">Minority p</text></g>
<g id="pg-33" transform="translate(777 404.1)"><rect class="bg h" width="39" height="8"/><text x="1.5" y="6.3">Info integ</text></g>
<g id="pg-34" transform="translate(777 415.3)"><rect class="bg" width="39" height="8"/><text x="1.5" y="6.3">Trustworth</text></g>
<g id="pg-35" transform="translate(777 426.4)"><rect class="bg" width="39" height="8"/><text x="1.5" y="6.3">Res in net</text></g>
<g id="pg-36" transform="translate(777 437.5)"><rect class="bg" width="39" height="8"/><text x="1.5" y="6.3">Res in net</text></g>
</g>
<g id="dir">
<g id="dir-0" transform="translate(930 36.5)"><rect class="bd h" width="39" height="8"/><text x="1.5" y="6.3">Eng</text></g>
<g id="dir-1" transform="translate(930 47.6)"><rect class="bd g" width="39" height="8"/><text x="1.5" y="6.3">Mps</text></g>
<g id="dir-2" transform="translate(930 58.8)"><rect class="bd g" width="39" height="8"/><text x="1.5" y="6.3">Cse</text></g>
<g id="dir-3" transform="translate(930 69.9)"><rect class="bd g" width="39" height="8"/><text x="1.5" y="6.3">Ehr</text></g>
<g id="dir-4" transform="translate(930 81.1)"><rect class="bd g" width="39" height="8"/><text x="1.5" y="6.3">Bio</text></g>
<g id="dir-5" transform="translate(930 92.2)"><rect class="bd" width="39" height="8"/><text x="1.5" y="6.3">Oid</text></g>
<g id="dir-6" transform="translate(930 103.3)"><rect class="bd" width="39" height="8"/><text x="1.5" y="6.3">Geo</text></g>
<g id="dir-7" transform="translate(930 114.5)"><rect class="bd" width="39" height="8"/><text x="1.5" y="6.3">Sbe</text></g>
<g id="dir-8" transform="translate(930 125.6)"><rect class="bd" width="39" height="8"/><text x="1.5" y="6.3">Opp</text></g>
</g>
</g>

<g id="titles">
<text class="t" x="74.5" y="31">Institutes</text>
<text class="t" x="231.5" y="31">PIs</text>
<text class="t" x="434" y="31">Projects</text>
<text class="t" x="637" y="31">Pr-Man</text>
<text class="t" x="794" y="31">Programs</text>
<text class="t" x="949.5" y="31">Dir</text>
</g>

<g id="panel-icons">
<use href="#ico" x="112" y="4"/>
<use href="#ico" x="264" y="4"/>
<use href="#ico" x="522" y="4"/>
<use href="#ico" x="676" y="4"/>
<use href="#ico" x="829" y="4"/>
<use href="#ico" x="983" y="4"/>
</g>

<g id="scrollers">
<use href="#scr" x="155" y="414"/>
<use href="#scr" x="308" y="414"/>
<use href="#scr" x="566" y="414"/>
<use href="#scr" x="719" y="414"/>
<use href="#scr" x="872" y="414"/>
</g>

<g id="panels">
<rect class="pan" x="3" y="3.5" width="152" height="444.5" stroke="#f5bac2"/>
<rect class="pan" x="155.5" y="3.5" width="151.5" height="444.5" stroke="#3c4ea8"/>
<rect class="pan" x="308.5" y="3.5" width="257" height="444.5" stroke="#e42d38"/>
<rect class="pan" x="567.5" y="3.5" width="151.5" height="444.5" stroke="#78d0dd"/>
<rect class="pan" x="720.5" y="3.5" width="151" height="444.5" stroke="#f7cd35"/>
<rect class="pan" x="873.5" y="3.5" width="152.5" height="444.5" stroke="#ffea00"/>
</g>
</svg>
